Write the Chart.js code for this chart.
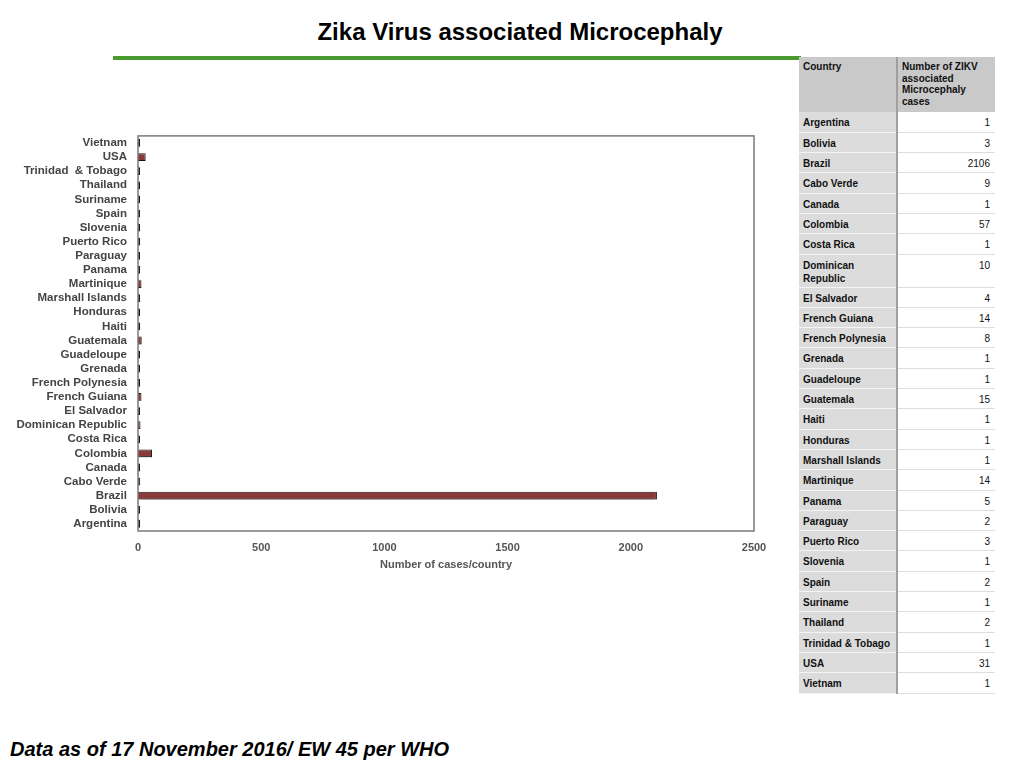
<!DOCTYPE html>
<html lang="en">
<head>
<meta charset="UTF-8">
<title>Zika Virus associated Microcephaly</title>
<script src="https://cdn.jsdelivr.net/npm/chart.js"></script>
<style>
  body { margin: 0; width: 1024px; height: 768px; position: relative; background: #fff; font-family: "Liberation Sans", Arial, sans-serif; overflow: hidden; }
  #title { position: absolute; left: 0; top: 18px; width: 1040px; text-align: center; font-size: 24px; font-weight: bold; color: #000; }
  #rule { position: absolute; left: 113px; top: 56px; width: 688px; height: 4px; background: #4a9a30; }
  #chartBox { position: absolute; left: 0; top: 126px; width: 770px; height: 448px; }
  #footer { position: absolute; left: 10px; top: 738px; font-size: 20px; font-weight: bold; font-style: italic; color: #000; }
  table { position: absolute; left: 799px; top: 57px; width: 196px; border-collapse: collapse; font-size: 10px; color: #111; table-layout: fixed; }
  td, th { vertical-align: top; padding: 4px 5px 2px 4px; line-height: 13px; }
  th { background: #c9c9c9; font-weight: bold; text-align: left; line-height: 11.7px; height: 49px; }
  td.name { background: #dcdcdc; font-weight: bold; border-bottom: 1px solid #f4f4f4; border-right: 2px solid #a0a0a0; }
  td.num { background: #fff; text-align: right; border-bottom: 1px solid #dedede; }
  th.name { border-right: 2px solid #a0a0a0; }
  tr.row { height: 20.3px; }
</style>
</head>
<body>
<div id="title">Zika Virus associated Microcephaly</div>
<div id="rule"></div>
<div id="chartBox"><canvas id="chart"></canvas></div>
<table id="tbl">
  <colgroup><col style="width:98px"><col style="width:98px"></colgroup>
  <thead><tr><th class="name">Country</th><th>Number of ZIKV associated Microcephaly cases</th></tr></thead>
  <tbody id="tbody"></tbody>
</table>
<div id="footer">Data as of 17 November 2016/ EW 45 per WHO</div>

<script>
const countries = ['Argentina', 'Bolivia', 'Brazil', 'Cabo Verde', 'Canada', 'Colombia', 'Costa Rica',
  'Dominican Republic', 'El Salvador', 'French Guiana', 'French Polynesia', 'Grenada', 'Guadeloupe',
  'Guatemala', 'Haiti', 'Honduras', 'Marshall Islands', 'Martinique', 'Panama', 'Paraguay',
  'Puerto Rico', 'Slovenia', 'Spain', 'Suriname', 'Thailand', 'Trinidad & Tobago', 'USA', 'Vietnam'];
const cases = [1, 3, 2106, 9, 1, 57, 1, 10, 4, 14, 8, 1, 1, 15, 1, 1, 1, 14, 5, 2, 3, 1, 2, 1, 2, 1, 31, 1];
// the chart spells one label with a double space
const chartLabels = countries.map(c => c === 'Trinidad & Tobago' ? 'Trinidad  & Tobago' : c);
const xTicks = [0, 500, 1000, 1500, 2000, 2500];

// table beside the chart
const tbody = document.getElementById('tbody');
countries.forEach((c, i) => {
  const tr = document.createElement('tr');
  tr.className = 'row';
  const name = c === 'Dominican Republic' ? 'Dominican<br>Republic' : c;
  tr.innerHTML = '<td class="name">' + name + '</td><td class="num">' + cases[i] + '</td>';
  tbody.appendChild(tr);
});

const plotFrame = {
  id: 'plotFrame',
  beforeDatasetsDraw(chart) {
    const ctx = chart.ctx;
    ctx.save();
    ctx.shadowColor = 'rgba(0,0,0,0.4)';
    ctx.shadowBlur = 5;
    ctx.shadowOffsetY = 4;
    ctx.shadowOffsetX = 1;
  },
  afterDatasetsDraw(chart) {
    chart.ctx.restore();
  },
  afterDraw(chart) {
    const a = chart.chartArea;
    const ctx = chart.ctx;
    ctx.save();
    ctx.strokeStyle = '#7a7a7a';
    ctx.lineWidth = 1.5;
    ctx.strokeRect(a.left, a.top, a.right - a.left, a.bottom - a.top);
    ctx.restore();
  }
};

new Chart(document.getElementById('chart'), {
  type: 'bar',
  data: {
    labels: chartLabels,
    datasets: [{
      data: cases,
      backgroundColor: '#8b3a3a',
      borderColor: '#1a1a1a',
      borderWidth: 1,
      minBarLength: 2,
      barPercentage: 1,
      categoryPercentage: 0.55
    }]
  },
  plugins: [plotFrame],
  options: {
    indexAxis: 'y',
    responsive: true,
    maintainAspectRatio: false,
    animation: false,
    layout: { padding: { top: 6, right: 16, left: 0, bottom: 0 } },
    plugins: { legend: { display: false }, tooltip: { enabled: false } },
    scales: {
      x: {
        min: 0, max: 2500,
        afterBuildTicks: s => { s.ticks = xTicks.map(v => ({ value: v })); },
        afterFit: s => { s.height = 43; },
        grid: { display: false },
        border: { display: false },
        ticks: { color: '#555', padding: 2, callback: v => String(v),
                 font: { family: 'Liberation Sans', size: 11, weight: 'bold' } },
        title: { display: true, text: 'Number of cases/country', color: '#555', padding: 2,
                 font: { family: 'Liberation Sans', size: 11, weight: 'bold' } }
      },
      y: {
        reverse: true,
        afterFit: s => { s.width = 138; },
        grid: { display: false },
        border: { display: false },
        ticks: { color: '#444', padding: 3, autoSkip: false, font: { family: 'Liberation Sans', size: 11.5, weight: 'bold' } }
      }
    }
  }
});
</script>
</body>
</html>
